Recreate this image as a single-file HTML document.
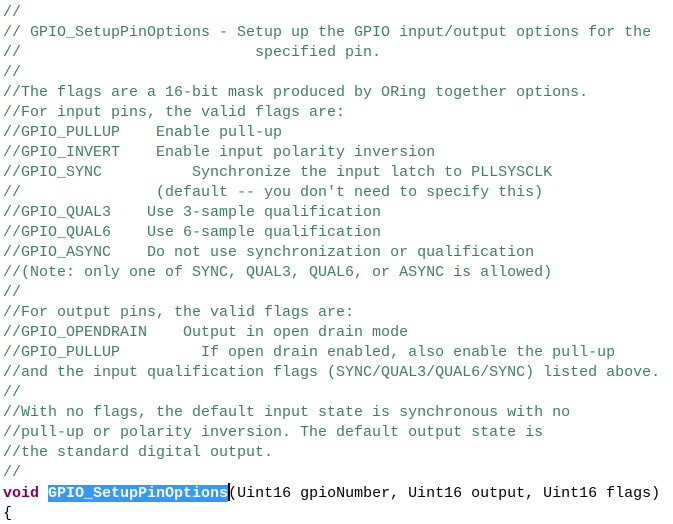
<!DOCTYPE html>
<html><head><meta charset="utf-8"><style>
html,body{margin:0;padding:0;background:#fff;width:673px;height:506px;overflow:hidden}
pre{margin:0;position:absolute;left:3px;top:3px;font-family:"Liberation Mono",monospace;font-size:15px;line-height:20px;color:#3f7f5f}
.k{color:#7f0055;font-weight:bold}
.n{color:#000}
.sel{background:#3399ff;color:#fff;font-weight:bold}
.caret{display:inline-block;width:0;border-left:2px solid #000;height:18px;vertical-align:-4px;margin-right:-2px}
</style></head><body>
<pre>//
// GPIO_SetupPinOptions - Setup up the GPIO input/output options for the
//                          specified pin.
//
//The flags are a 16-bit mask produced by ORing together options.
//For input pins, the valid flags are:
//GPIO_PULLUP    Enable pull-up
//GPIO_INVERT    Enable input polarity inversion
//GPIO_SYNC          Synchronize the input latch to PLLSYSCLK
//               (default -- you don't need to specify this)
//GPIO_QUAL3    Use 3-sample qualification
//GPIO_QUAL6    Use 6-sample qualification
//GPIO_ASYNC    Do not use synchronization or qualification
//(Note: only one of SYNC, QUAL3, QUAL6, or ASYNC is allowed)
//
//For output pins, the valid flags are:
//GPIO_OPENDRAIN    Output in open drain mode
//GPIO_PULLUP         If open drain enabled, also enable the pull-up
//and the input qualification flags (SYNC/QUAL3/QUAL6/SYNC) listed above.
//
//With no flags, the default input state is synchronous with no
//pull-up or polarity inversion. The default output state is
//the standard digital output.
//
<span class="k">void</span> <span class="sel">GPIO_SetupPinOptions</span><span class="caret"></span><span class="n">(Uint16 gpioNumber, Uint16 output, Uint16 flags)</span>
<span class="n">{</span></pre>
</body></html>
